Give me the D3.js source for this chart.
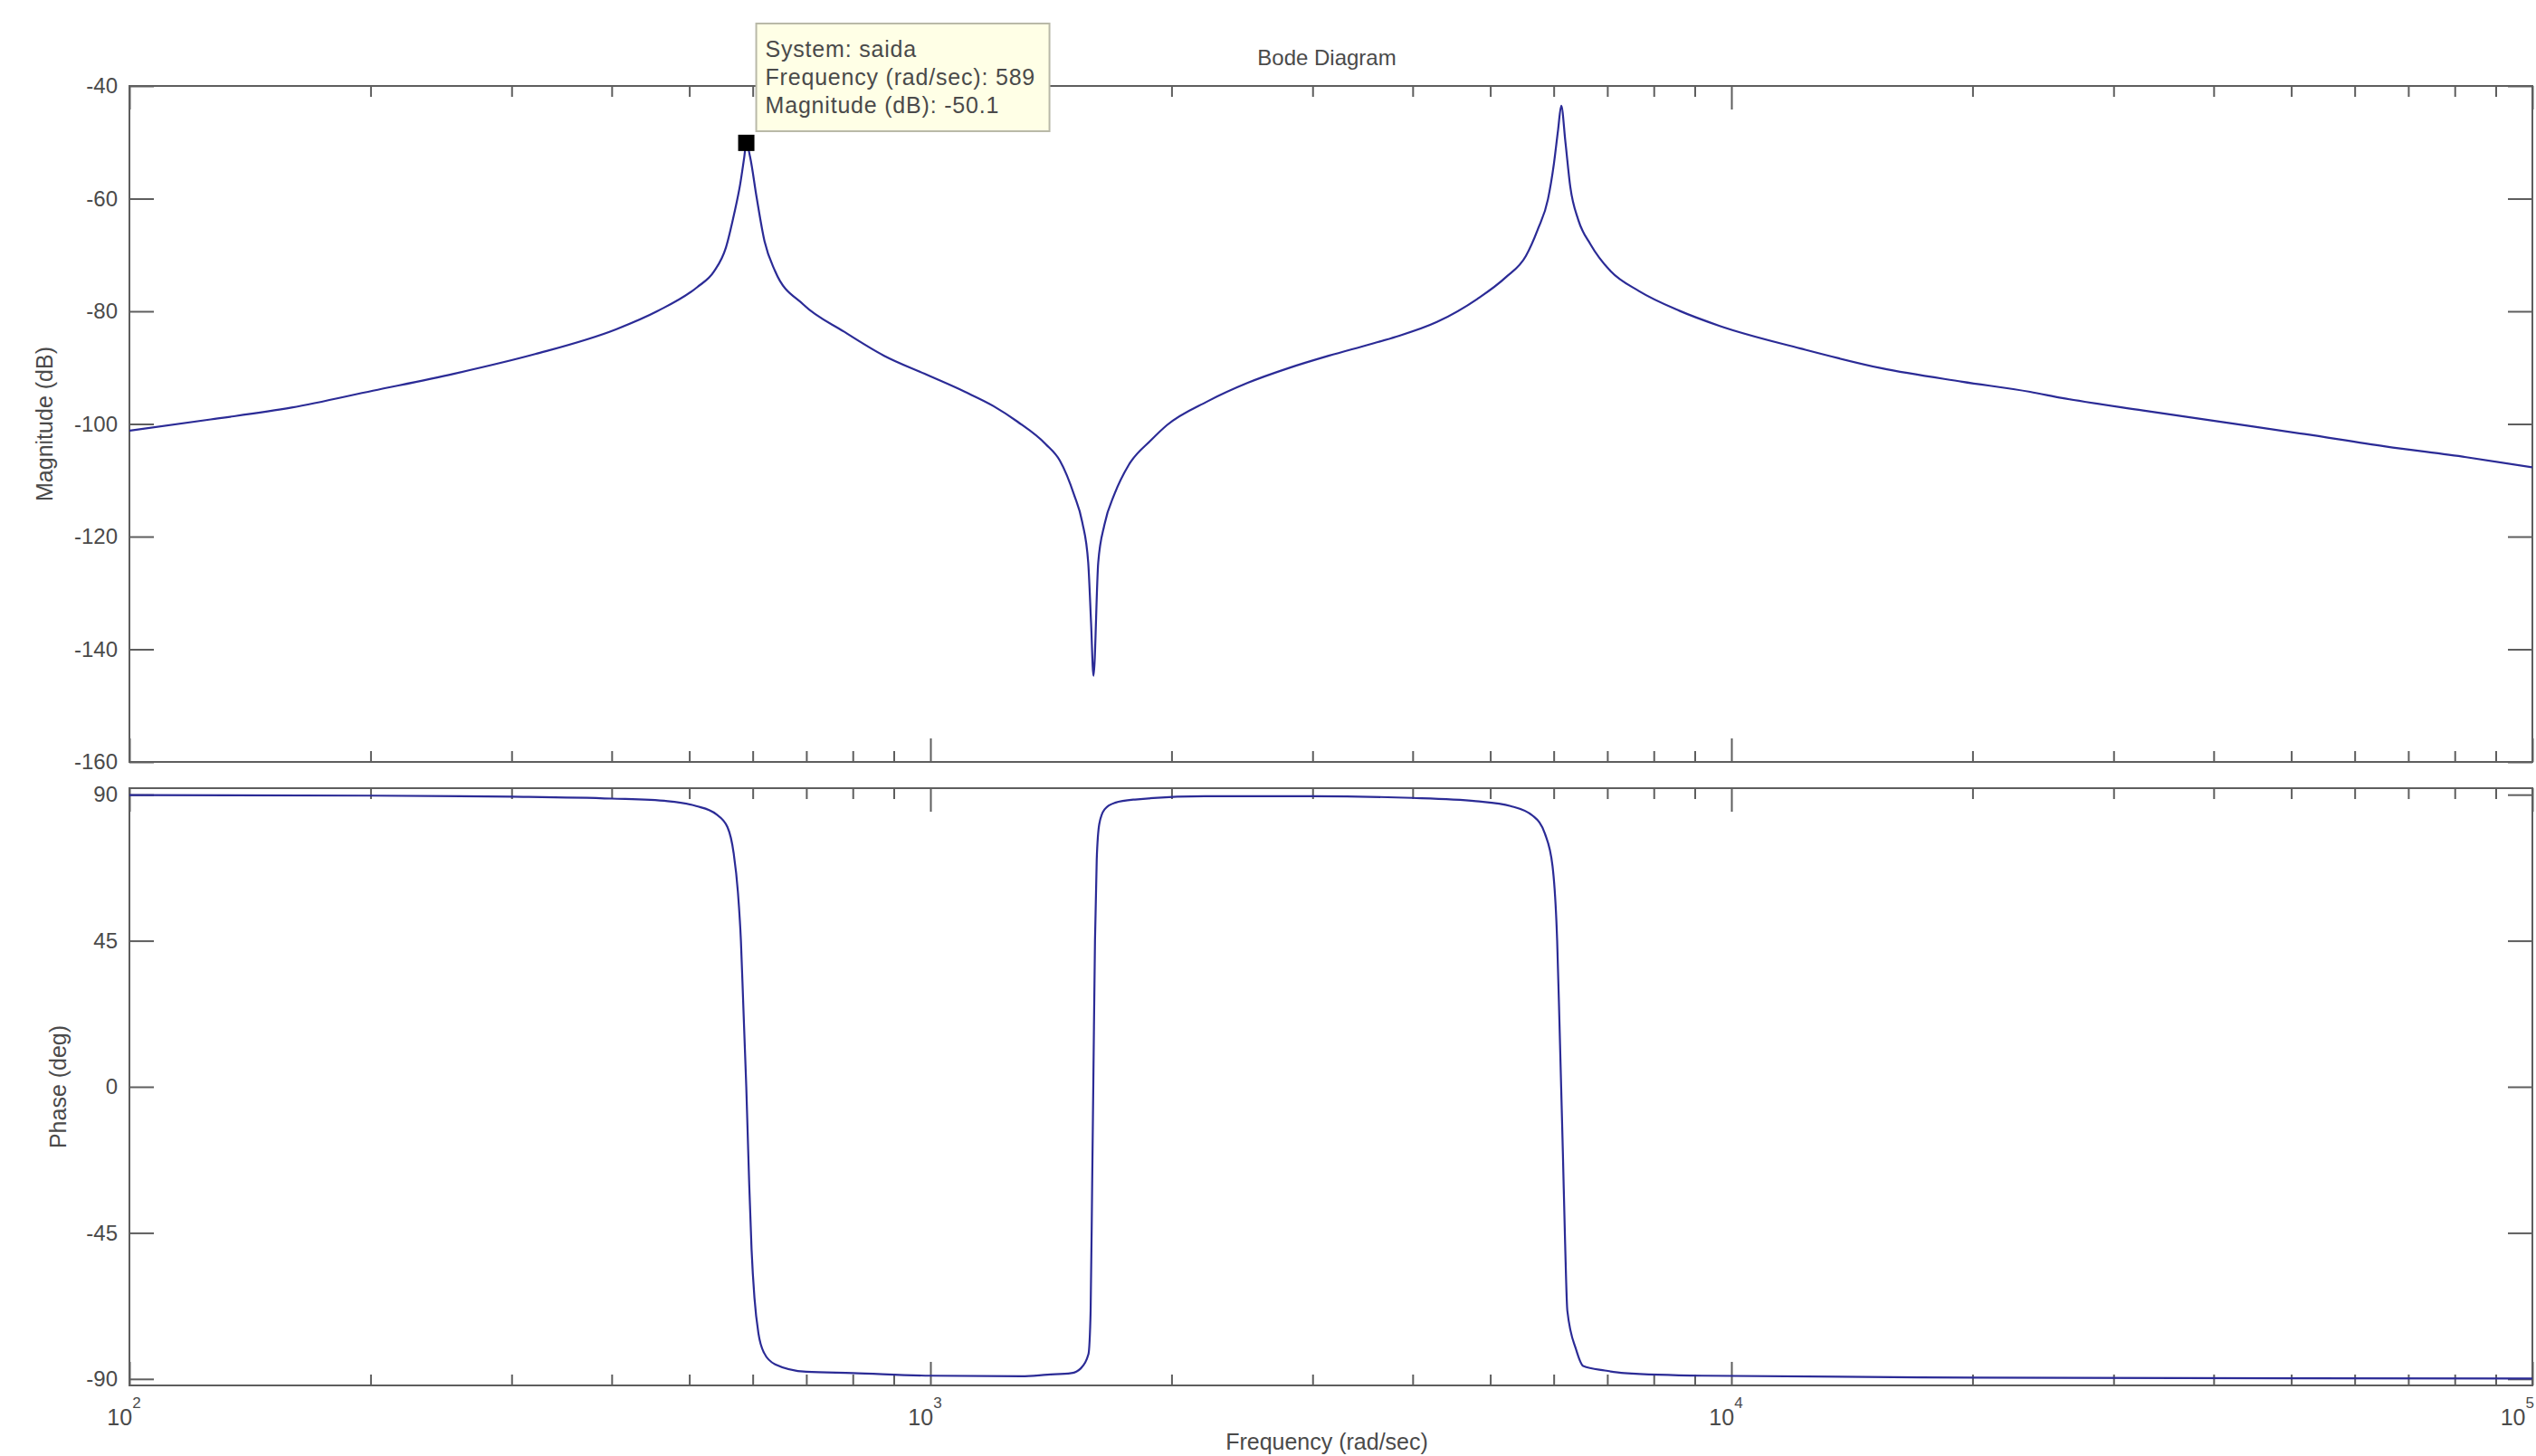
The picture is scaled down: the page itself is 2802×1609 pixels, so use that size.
<!DOCTYPE html>
<html>
<head>
<meta charset="utf-8">
<script src="https://cdn.jsdelivr.net/npm/d3@7"></script>
<style>
  html, body { margin: 0; padding: 0; background: #ffffff; }
  svg { display: block; }
  text { font-family: "Liberation Sans", Arial, sans-serif; fill: #4a4a4a; }
</style>
</head>
<body>
<svg id="chart" width="2802" height="1609"></svg>
<script>
// ---------------- data ----------------
const magFreq = [100, 126.3, 159.4, 201.4, 254, 321, 405, 455.7, 511.7, 536.4, 555.5, 568.6, 578.7, 585.5, 589,
  595.7, 606.5, 620.8, 640, 694, 779.8, 875.6, 983.5, 1104.6, 1198, 1284.6, 1393.5, 1450.8, 1511.5, 1547, 1574, 1587, 1598,
  1620, 1649, 1698, 1768, 1885, 1974, 2217, 2490, 2798, 3142, 3529, 3818, 4289, 4818, 5225, 5538, 5734, 5902, 6005, 6076, 6132,
  6205, 6293, 6440, 6669, 7069, 7665, 8610, 9670, 12200, 15390, 19420, 23600, 25890, 32660, 41190, 51960, 65550, 82700, 100000];
const magDb = [-101.2, -99.2, -97.1, -94.1, -91.1, -87.6, -83.2, -80.0, -75.7, -73.0, -68.7, -62.8, -57.5, -52.7, -50.1,
  -52.7, -59.6, -67.6, -72.9, -78.8, -83.6, -87.9, -91.1, -94.3, -96.8, -99.6, -103.6, -106.5, -112.6, -117.4, -124.6, -135.3, -144.7,
  -124.6, -117.9, -112.4, -107.3, -102.9, -100.2, -96.0, -92.7, -90.1, -87.9, -85.9, -84.5, -81.9, -77.8, -74.0, -70.2, -65.4, -60.1, -53.7, -47.8, -43.5,
  -49.9, -57.9, -63.8, -68.1, -72.9, -76.4, -79.9, -82.6, -86.6, -90.1, -92.5, -94.3, -95.4, -97.6, -99.7, -101.8, -104.0, -105.9, -107.7];

const phaseFreq = [100, 200, 300, 400, 470, 510, 540, 558, 568, 575, 580, 584, 587, 589, 591, 594, 598, 603, 610, 620, 640,
  700, 800, 1000, 1300, 1400, 1500, 1540, 1575, 1585, 1592, 1598, 1605, 1613, 1625, 1650, 1700, 1800, 2200, 3000, 4000,
  4800, 5300, 5650, 5850, 5980, 6060, 6100, 6130, 6160, 6200, 6240, 6400, 6530, 6950, 7350, 9200, 20000, 50000, 100000];
const phaseDeg = [89.9, 89.7, 89.4, 88.8, 88.0, 86.5, 84.0, 80.0, 72.0, 60.0, 45.0, 25.0, 10.0, 0.0, -12.0, -30.0, -50.0, -65.0, -76.0, -82.0, -85.5,
  -87.8, -88.2, -89.0, -89.2, -88.7, -88.2, -86.8, -82.4, -69.0, -30.0, 5.0, 45.0, 70.0, 81.0, 85.5, 87.5, 88.5, 89.5, 89.5, 89.0,
  88.0, 86.5, 83.5, 78.0, 68.0, 45.0, 20.0, 0.0, -20.0, -48.0, -69.0, -81.0, -86.0, -87.4, -88.2, -89.0, -89.6, -89.8, -89.9];

const xMajorTicks = [100, 1000, 10000, 100000];
const xMajorExp = ["2", "3", "4", "5"];
const xMinorTicks = [200, 300, 400, 500, 600, 700, 800, 900,
  2000, 3000, 4000, 5000, 6000, 7000, 8000, 9000,
  20000, 30000, 40000, 50000, 60000, 70000, 80000, 90000];
const magTicks = [-160, -140, -120, -100, -80, -60, -40];
const phaseTicks = [-90, -45, 0, 45, 90];

const tipFreq = 589;
const tipMag = -50.1;
const tipLines = ["System: saida", "Frequency (rad/sec): " + tipFreq, "Magnitude (dB): " + tipMag];

// ---------------- layout ----------------
const L = 143, R = 2798;
const magTop = 95, magBot = 842;
const phTop = 871, phBot = 1531;
const axisColor = "#5e5e5e";
const lineColor = "#2b2b96";

const svg = d3.select("#chart");
svg.append("rect").attr("width", 2802).attr("height", 1609).attr("fill", "#ffffff");

const x = d3.scaleLog().domain([1e2, 1e5]).range([L, R]);
const yMag = d3.scaleLinear().domain([-160, -40]).range([magBot, magTop]);
const yPh = d3.scaleLinear().domain([-92, 92]).range([phBot, phTop]);

function styleAxis(g) {
  g.selectAll("path.domain").remove();
  g.selectAll("line").attr("stroke", axisColor).attr("stroke-width", 2);
  g.selectAll("text").style("font-size", "24px").attr("fill", "#4a4a4a")
    .style("font-family", '"Liberation Sans", Arial, sans-serif');
}

function panel(yScale, top, bot, yTicks, clipId) {
  svg.append("g").attr("transform", `translate(0,${bot})`)
    .call(d3.axisBottom(x).tickValues(xMajorTicks).tickSizeInner(-26).tickSizeOuter(0).tickFormat(""))
    .call(styleAxis);
  svg.append("g").attr("transform", `translate(0,${bot})`)
    .call(d3.axisBottom(x).tickValues(xMinorTicks).tickSizeInner(-12).tickSizeOuter(0).tickFormat(""))
    .call(styleAxis);
  svg.append("g").attr("transform", `translate(0,${top})`)
    .call(d3.axisTop(x).tickValues(xMajorTicks).tickSizeInner(-26).tickSizeOuter(0).tickFormat(""))
    .call(styleAxis);
  svg.append("g").attr("transform", `translate(0,${top})`)
    .call(d3.axisTop(x).tickValues(xMinorTicks).tickSizeInner(-12).tickSizeOuter(0).tickFormat(""))
    .call(styleAxis);
  svg.append("g").attr("transform", `translate(${L},0)`)
    .call(d3.axisLeft(yScale).tickValues(yTicks).tickSizeInner(-27).tickSizeOuter(0).tickPadding(13).tickFormat(d => String(d)))
    .call(styleAxis);
  svg.append("g").attr("transform", `translate(${R},0)`)
    .call(d3.axisRight(yScale).tickValues(yTicks).tickSizeInner(-27).tickSizeOuter(0).tickFormat(""))
    .call(styleAxis);
  svg.append("rect").attr("x", L).attr("y", top).attr("width", R - L).attr("height", bot - top)
    .attr("fill", "none").attr("stroke", axisColor).attr("stroke-width", 2);
  svg.append("clipPath").attr("id", clipId).append("rect")
    .attr("x", L).attr("y", top - 1).attr("width", R - L).attr("height", bot - top + 2);
}

panel(yMag, magTop, magBot, magTicks, "clipMag");
panel(yPh, phTop, phBot, phaseTicks, "clipPh");

// x tick labels 10^n
xMajorTicks.forEach((t, i) => {
  const last = i === xMajorTicks.length - 1;
  const tx = svg.append("text").attr("x", last ? 2800 : x(t) - 6).attr("y", 1575)
    .attr("text-anchor", last ? "end" : "middle").style("font-size", "25px");
  tx.append("tspan").text("10");
  tx.append("tspan").attr("dy", -19).style("font-size", "17px").text(xMajorExp[i]);
});

// curves
const magData = magFreq.map((f, i) => ({ f, v: magDb[i] }));
const phData = phaseFreq.map((f, i) => ({ f, v: phaseDeg[i] }));

svg.append("path").datum(magData)
  .attr("clip-path", "url(#clipMag)")
  .attr("fill", "none").attr("stroke", lineColor).attr("stroke-width", 2.2).attr("stroke-linejoin", "round")
  .attr("d", d3.line().curve(d3.curveMonotoneX).x(d => x(d.f)).y(d => yMag(d.v)));

svg.append("path").datum(phData)
  .attr("clip-path", "url(#clipPh)")
  .attr("fill", "none").attr("stroke", lineColor).attr("stroke-width", 2.2).attr("stroke-linejoin", "round")
  .attr("d", d3.line().curve(d3.curveMonotoneX).x(d => x(d.f)).y(d => yPh(d.v)));

// labels
svg.append("text").attr("x", 1466).attr("y", 72).attr("text-anchor", "middle")
  .style("font-size", "24px").attr("fill", "#333").text("Bode Diagram");

svg.append("text").attr("transform", `translate(58,${(magTop + magBot) / 2}) rotate(-90)`)
  .attr("text-anchor", "middle").style("font-size", "25px").attr("fill", "#333").text("Magnitude (dB)");

svg.append("text").attr("transform", `translate(73,${(phTop + phBot) / 2}) rotate(-90)`)
  .attr("text-anchor", "middle").style("font-size", "25px").attr("fill", "#333").text("Phase (deg)");

svg.append("text").attr("x", 1466).attr("y", 1602).attr("text-anchor", "middle")
  .style("font-size", "25px").attr("fill", "#333").text("Frequency  (rad/sec)");

// data tip
const mx = x(tipFreq), my = yMag(tipMag);
svg.append("rect").attr("x", mx - 9).attr("y", my - 9).attr("width", 18).attr("height", 18).attr("fill", "#000");
const tipG = svg.append("g");
tipG.append("rect").attr("x", mx + 11).attr("y", 26).attr("width", 324).attr("height", 119)
  .attr("fill", "#ffffe6").attr("stroke", "#b9b9a8").attr("stroke-width", 2);
tipLines.forEach((s, i) => {
  tipG.append("text").attr("x", mx + 21).attr("y", 63 + i * 31)
    .style("font-size", "25px").style("letter-spacing", "0.8px").attr("fill", "#222").text(s);
});
</script>
</body>
</html>
